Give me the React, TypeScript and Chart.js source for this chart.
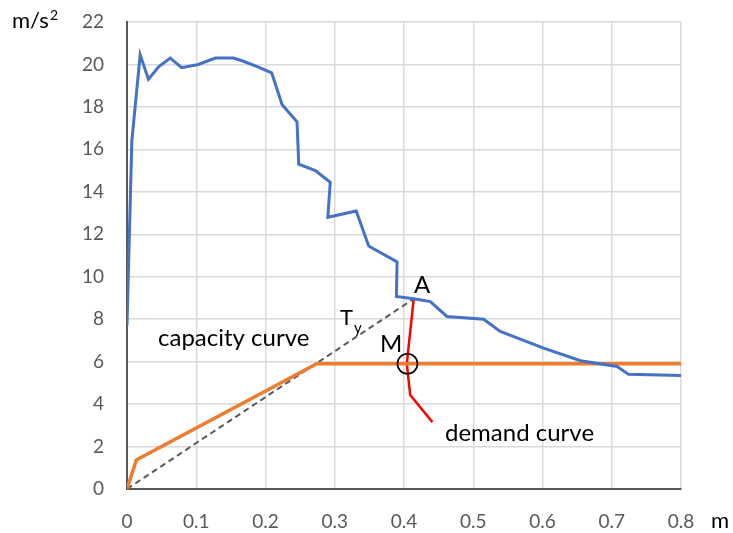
import { useEffect, useRef } from "react";
import { Chart, registerables } from "chart.js";

Chart.register(...registerables);

// Blue curve (demand spectrum) – displacement (m), acceleration (m/s²)
const blueX = [0, 0.007, 0.019, 0.031, 0.046, 0.0625, 0.079, 0.103, 0.1275, 0.154, 0.168, 0.188, 0.209, 0.224, 0.2455, 0.248, 0.272, 0.2935, 0.29, 0.331, 0.349, 0.39, 0.389, 0.414, 0.438, 0.462, 0.515, 0.539, 0.6016, 0.655, 0.7076, 0.7243, 0.8];
const blueY = [7.7, 16.4, 20.45, 19.3, 19.9, 20.3, 19.85, 20.0, 20.3, 20.3, 20.15, 19.9, 19.6, 18.1, 17.3, 15.3, 15.0, 14.45, 12.8, 13.1, 11.45, 10.7, 9.07, 8.96, 8.83, 8.13, 8.0, 7.42, 6.64, 6.04, 5.77, 5.4, 5.35];

// Orange capacity curve
const capX = [0, 0.0135, 0.274, 0.8];
const capY = [0, 1.37, 5.9, 5.9];

// Dashed secant line T_y (origin to point A)
const tyX = [0, 0.414];
const tyY = [0, 8.96];

// Red demand curve
const demX = [0.414, 0.404, 0.409, 0.441];
const demY = [8.96, 5.9, 4.43, 3.15];

// Performance point M
const pointM = { x: 0.405, y: 5.9 };

const xTicks = [0, 0.1, 0.2, 0.3, 0.4, 0.5, 0.6, 0.7, 0.8];
const yTicks = [0, 2, 4, 6, 8, 10, 12, 14, 16, 18, 20, 22];

const zip = (xs: number[], ys: number[]) => xs.map((x, i) => ({ x, y: ys[i] }));

const FONT = "Lato, 'Noto Sans', sans-serif";

export default function App() {
  const ref = useRef<HTMLCanvasElement | null>(null);
  useEffect(() => {
    if (!ref.current) return;
    const annot = {
      id: "annot",
      afterDatasetsDraw(chart: any) {
        const { ctx, scales } = chart;
        const xs = scales.x;
        const ys = scales.y;
        ctx.save();
        // circle at M
        ctx.beginPath();
        ctx.arc(xs.getPixelForValue(pointM.x), ys.getPixelForValue(pointM.y), 10, 0, Math.PI * 2);
        ctx.strokeStyle = "#000";
        ctx.lineWidth = 1.6;
        ctx.stroke();
        ctx.fillStyle = "#000";
        ctx.textBaseline = "alphabetic";
        ctx.textAlign = "left";
        ctx.font = `24px ${FONT}`;
        ctx.fillText("A", 414, 293);
        ctx.fillText("M", 380, 352);
        ctx.fillText("capacity curve", 158, 346);
        ctx.fillText("demand curve", 445, 441);
        ctx.font = `22px ${FONT}`;
        ctx.fillText("T", 340, 325);
        ctx.font = `15px ${FONT}`;
        ctx.fillText("y", 354, 333);
        ctx.font = `22px ${FONT}`;
        ctx.fillText("m/s", 12, 28);
        ctx.font = `14px ${FONT}`;
        ctx.fillText("2", 50, 20);
        ctx.font = `22px ${FONT}`;
        ctx.fillText("m", 711, 528);
        ctx.restore();
      },
    };
    const chart = new Chart(ref.current, {
      type: "scatter",
      data: {
        datasets: [
          { data: zip(blueX, blueY), borderColor: "#4472C4", borderWidth: 3, showLine: true, pointRadius: 0, tension: 0 },
          { data: zip(capX, capY), borderColor: "#ED7D31", borderWidth: 3.5, showLine: true, pointRadius: 0 },
          { data: zip(tyX, tyY), borderColor: "#595959", borderWidth: 2, borderDash: [6, 4], showLine: true, pointRadius: 0 },
          { data: zip(demX, demY), borderColor: "#FF0000", borderWidth: 2.5, showLine: true, pointRadius: 0 },
        ],
      },
      options: {
        animation: false,
        responsive: false,
        events: [],
        layout: { padding: { left: 0, right: 52, top: 22, bottom: 0 } },
        plugins: { legend: { display: false }, tooltip: { enabled: false } },
        scales: {
          x: {
            type: "linear",
            min: 0,
            max: 0.8,
            afterBuildTicks: (s: any) => { s.ticks = xTicks.map((v) => ({ value: v })); },
            afterFit: (s: any) => { s.height = 44; s.paddingLeft = 0; s.paddingRight = 0; },
            ticks: { color: "#595959", font: { family: FONT, size: 19 }, padding: 21, callback: (v: any) => String(Number(v)) },
            grid: { color: "#d9d9d9", lineWidth: 1.5, drawTicks: false },
            border: { color: "#595959", width: 2 },
          },
          y: {
            type: "linear",
            min: 0,
            max: 22,
            afterBuildTicks: (s: any) => { s.ticks = yTicks.map((v) => ({ value: v })); },
            afterFit: (s: any) => { s.width = 127; s.paddingTop = 0; s.paddingBottom = 0; },
            ticks: { color: "#595959", font: { family: FONT, size: 19 }, padding: 23 },
            grid: { color: "#d9d9d9", lineWidth: 1.5, drawTicks: false },
            border: { color: "#595959", width: 2 },
          },
        },
      },
      plugins: [annot],
    });
    return () => chart.destroy();
  }, []);
  return (
    <div style={{ position: "fixed", left: 0, top: 0, width: 733, height: 533, background: "#fff" }}>
      <canvas ref={ref} width={733} height={533} style={{ width: 733, height: 533 }} />
    </div>
  );
}
